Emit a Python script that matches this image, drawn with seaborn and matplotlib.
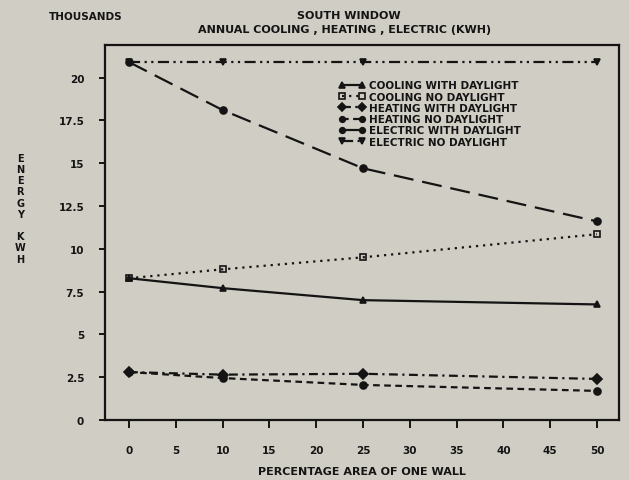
import matplotlib
matplotlib.use("Agg")
import matplotlib.pyplot as plt
import seaborn as sns
import pandas as pd

# Window area as percentage of one wall
pct_area = [0, 10, 25, 50]

# Annual energy use, thousands of kWh
cooling_with_daylight = [8.28, 7.7, 7.0, 6.75]
cooling_no_daylight = [8.28, 8.8, 9.5, 10.85]
heating_with_daylight = [2.8, 2.65, 2.7, 2.4]
heating_no_daylight = [2.8, 2.45, 2.05, 1.7]
electric_with_daylight = [20.9, 18.1, 14.7, 11.6]
electric_no_daylight = [20.9, 20.9, 20.9, 20.9]

series_names = [
    "COOLING WITH DAYLIGHT",
    "COOLING NO DAYLIGHT",
    "HEATING WITH DAYLIGHT",
    "HEATING NO DAYLIGHT",
    "ELECTRIC WITH DAYLIGHT",
    "ELECTRIC NO DAYLIGHT",
]
series_values = [
    cooling_with_daylight,
    cooling_no_daylight,
    heating_with_daylight,
    heating_no_daylight,
    electric_with_daylight,
    electric_no_daylight,
]

x_ticks = [0, 5, 10, 15, 20, 25, 30, 35, 40, 45, 50]
y_ticks = [0, 2.5, 5, 7.5, 10, 12.5, 15, 17.5, 20]
y_tick_labels = ["0", "2.5", "5", "7.5", "10", "12.5", "15", "17.5", "20"]

df = pd.DataFrame(
    [(name, x, v) for name, vals in zip(series_names, series_values)
     for x, v in zip(pct_area, vals)],
    columns=["series", "pct", "kwh"],
)

sns.set_theme(style="white")
paper = "#d0cdc4"
ink = "#141414"
plt.rcParams["font.family"] = ["DejaVu Sans"]
plt.rcParams["font.weight"] = "bold"

styles = {
    "COOLING WITH DAYLIGHT": dict(linestyle="-", marker="^", mfc=ink),
    "COOLING NO DAYLIGHT": dict(linestyle=(0, (1, 2.2)), marker="s", mfc="none"),
    "HEATING WITH DAYLIGHT": dict(linestyle=(0, (4, 2, 1, 2)), marker="D", mfc=ink),
    "HEATING NO DAYLIGHT": dict(linestyle=(0, (3, 2)), marker="o", mfc=ink),
    "ELECTRIC WITH DAYLIGHT": dict(linestyle=(0, (9, 4)), marker="o", mfc=ink),
    "ELECTRIC NO DAYLIGHT": dict(linestyle=(0, (5, 2, 1, 2, 1, 2)), marker="v", mfc=ink),
}

fig = plt.figure(figsize=(6.29, 4.81), dpi=100, facecolor=paper)
ax = fig.add_axes([0.167, 0.1247, 0.817, 0.7797])
ax.set_facecolor(paper)

for name in series_names:
    st = styles[name]
    sns.lineplot(
        data=df[df["series"] == name], x="pct", y="kwh", ax=ax,
        color=ink, linewidth=1.6, linestyle=st["linestyle"],
        marker=st["marker"], markersize=5, markerfacecolor=st["mfc"],
        markeredgecolor=ink, markeredgewidth=1.2, label=name,
    )

ax.set_xlim(-2.56, 52.35)
ax.set_ylim(0, 21.9)
ax.set_xticks(x_ticks)
ax.set_xticklabels([str(t) for t in x_ticks], fontsize=7.5, fontweight="bold")
ax.set_yticks(y_ticks)
ax.set_yticklabels(y_tick_labels, fontsize=7.5, fontweight="bold")
ax.tick_params(axis="x", direction="out", length=6, width=1.4, color=ink,
               labelcolor=ink, pad=12, bottom=True)
ax.tick_params(axis="y", direction="out", length=4, width=1.4, color=ink,
               labelcolor=ink, pad=11, left=True)
for sp in ax.spines.values():
    sp.set_visible(True)
    sp.set_color(ink)
    sp.set_linewidth(1.6)

ax.set_xlabel("PERCENTAGE AREA OF ONE WALL", fontsize=8, fontweight="bold",
              color=ink, labelpad=8)
ax.set_ylabel("")

leg = ax.legend(
    loc="upper left", bbox_to_anchor=(0.44, 0.925), frameon=False,
    fontsize=7.5, handlelength=2.6, handletextpad=0.35, labelspacing=0.12,
    borderpad=0.2, markerscale=0.8, numpoints=2,
)
for t in leg.get_texts():
    t.set_color(ink)
    t.set_fontweight("bold")

fig.text(0.032, 0.565, "E\nN\nE\nR\nG\nY\n\nK\nW\nH", fontsize=7,
         fontweight="bold", color=ink, ha="center", va="center",
         linespacing=1.15)
fig.text(0.078, 0.965, "THOUSANDS", fontsize=7.5, fontweight="bold",
         color=ink, ha="left", va="center")
fig.text(0.555, 0.966, "SOUTH WINDOW", fontsize=8, fontweight="bold",
         color=ink, ha="center", va="center")
fig.text(0.548, 0.937, "ANNUAL COOLING , HEATING , ELECTRIC (KWH)", fontsize=8,
         fontweight="bold", color=ink, ha="center", va="center")

fig.savefig("out.png", dpi=100, facecolor=paper)
